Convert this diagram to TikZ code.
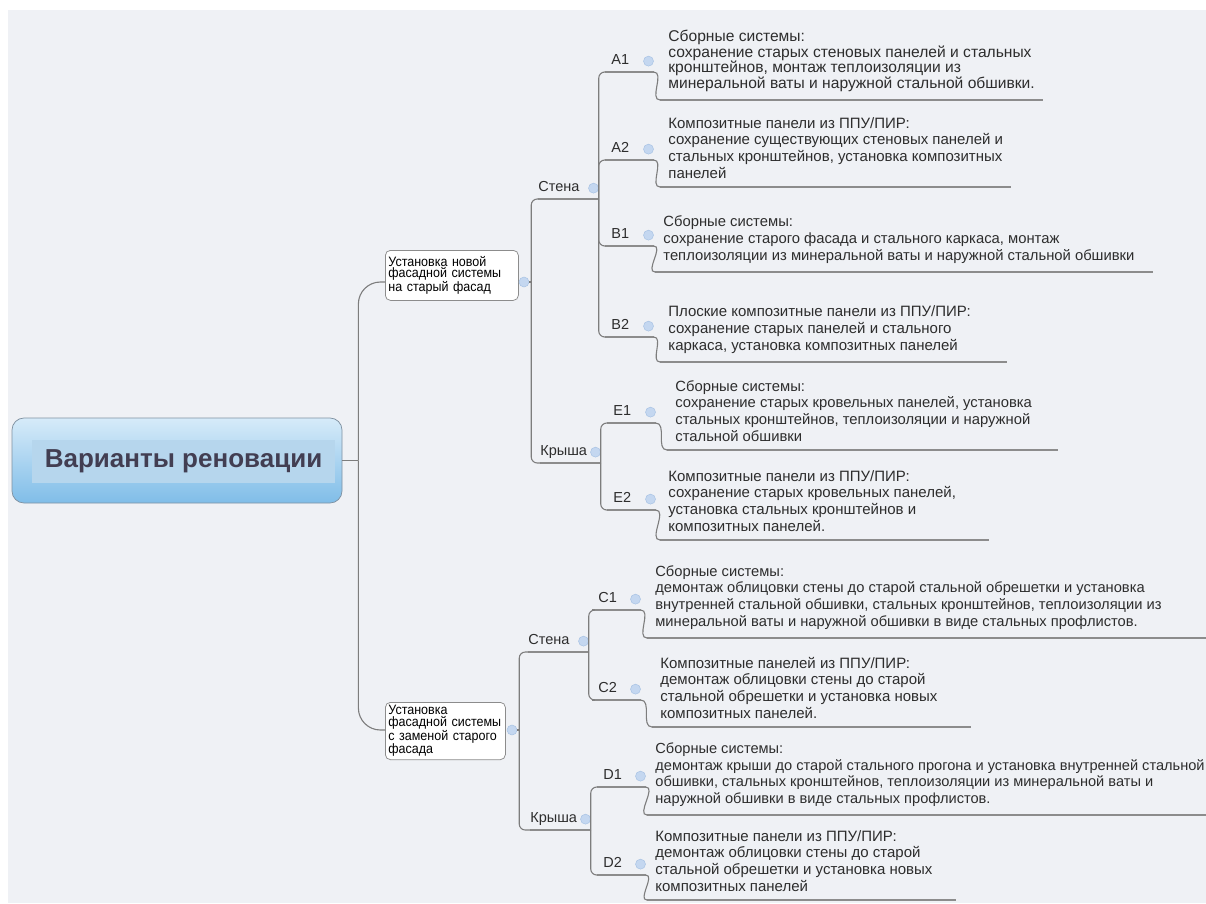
\documentclass[tikz,border=0pt]{standalone}
\usepackage{fontspec}
\setmainfont{Liberation Sans}
\newfontfamily\narrowsans{Liberation Sans}[FakeStretch=0.92]

\definecolor{paper}{RGB}{239,241,245}
\definecolor{lnGray}{RGB}{140,140,140}
\definecolor{brGray}{RGB}{125,125,125}
\definecolor{txt}{RGB}{45,45,45}
\definecolor{rootTop}{RGB}{214,235,249}
\definecolor{rootBot}{RGB}{128,189,232}
\definecolor{rootIn}{RGB}{182,214,237}
\definecolor{rootEdge}{RGB}{128,146,162}
\definecolor{rootTxt}{RGB}{66,62,82}
\definecolor{btnFill}{RGB}{196,215,240}
\definecolor{btnDraw}{RGB}{168,195,228}

\tikzset{every picture/.style={line width=0.75pt}}
\tikzset{
  under/.style={draw=lnGray, line width=1.8pt},
  branch/.style={draw=brGray, line width=1.1pt, rounded corners=6pt},
  btn/.style={circle, fill=btnFill, draw=btnDraw, line width=0.5pt, minimum size=10pt, inner sep=0pt},
  uline/.style={append after command={(\tikzlastnode.south west) edge[under] ([xshift=#1]\tikzlastnode.south east)}},
  uline/.default=0pt,
  sub/.style={anchor=south west, text width=60pt, inner xsep=0pt, inner ysep=4pt, text height=10pt, text depth=3pt,
    font=\fontsize{14.5}{16}\selectfont, text=txt, uline, label={[btn,anchor=east]east:{}}},
  tag/.style={sub, text width=36pt, inner xsep=6pt},
  desc/.style={anchor=south west, align=left, inner xsep=8pt, inner ysep=8pt, font=\fontsize{15}{16.8}\selectfont, text=txt, uline=#1},
  desc/.default=0pt,
  topic/.style={anchor=north west, draw=lnGray, fill=white, rounded corners=5pt, align=left, inner sep=3pt,
    font=\narrowsans\fontsize{13.6}{11.5}\selectfont, text=black},
  rootbox/.style={draw=rootEdge, rounded corners=12pt, top color=rootTop, bottom color=rootBot, minimum width=330pt, minimum height=85pt},
  rootlbl/.style={fill=rootIn, minimum width=303pt, minimum height=43pt, font=\bfseries\fontsize{26}{30}\selectfont, text=rootTxt},
}

\begin{document}
\begin{tikzpicture}[x=1pt,y=1pt,yscale=-1,xscale=1]
    \useasboundingbox (0,0) rectangle (1206,903);
    %Shape: Rectangle (backdrop)
    \fill[paper] (8,10) rectangle (1206,903);

    % Central topic
    \node[rootbox] (root) at (177,460.5) {};
    \node[rootlbl] (rootname) at (183.5,461.5) {Варианты реновации};

    % Main topics
    \node[topic, text width=127pt, minimum height=50pt] (n1) at (385,250) {Установка новой\\фасадной системы\\на старый фасад};
    \node[btn] (n1b) at (524,282) {};
    \node[topic, text width=114pt, minimum height=54pt] (n2) at (385,702) {Установка\\фасадной системы\\с заменой старого\\фасада};
    \node[btn] (n2b) at (512,730) {};

    % Subtopics
    \node[sub] (st1) at (538,199) {Стена};
    \node[sub] (kr1) at (540,463) {Крыша};
    \node[sub] (st2) at (528,652) {Стена};
    \node[sub] (kr2) at (530,830) {Крыша};

    % Variant tags
    \node[tag] (a1) at (605,72) {A1};
    \node[tag] (a2) at (605,160) {A2};
    \node[tag] (b1) at (605,246) {B1};
    \node[tag] (b2) at (605,337) {B2};
    \node[tag] (e1) at (607,423) {E1};
    \node[tag] (e2) at (607,510) {E2};
    \node[tag] (c1) at (592,610) {C1};
    \node[tag] (c2) at (592,700) {C2};
    \node[tag] (d1) at (597,787) {D1};
    \node[tag] (d2) at (597,875) {D2};

    % Text Node
    \node[desc, font=\fontsize{15.6}{15.6}\selectfont] (a1d) at (660,100) {Сборные системы:\\сохранение старых стеновых панелей и стальных\\кронштейнов, монтаж теплоизоляции из\\минеральной ваты и наружной стальной обшивки.};
    % Text Node
    \node[desc] (a2d) at (660,187) {Композитные панели из ППУ/ПИР:\\сохранение существующих стеновых панелей и\\стальных кронштейнов, установка композитных\\панелей};
    % Text Node
    \node[desc=10pt, font=\fontsize{14.8}{16.8}\selectfont] (b1d) at (655,272) {Сборные системы:\\сохранение старого фасада и стального каркаса, монтаж\\теплоизоляции из минеральной ваты и наружной стальной обшивки};
    % Text Node
    \node[desc=28pt] (b2d) at (660,362) {Плоские композитные панели из ППУ/ПИР:\\сохранение старых панелей и стального\\каркаса, установка композитных панелей};
    % Text Node
    \node[desc=18pt, font=\fontsize{14.8}{16.8}\selectfont] (e1d) at (667,450) {Сборные системы:\\сохранение старых кровельных панелей, установка\\стальных кронштейнов, теплоизоляции и наружной\\стальной обшивки};
    % Text Node
    \node[desc=25pt] (e2d) at (660,540) {Композитные панели из ППУ/ПИР:\\сохранение старых кровельных панелей,\\установка стальных кронштейнов и\\композитных панелей.};
    % Text Node
    \node[desc=60pt, font=\fontsize{14.7}{16.8}\selectfont] (c1d) at (647,638) {Сборные системы:\\демонтаж облицовки стены до старой стальной обрешетки и установка\\внутренней стальной обшивки, стальных кронштейнов, теплоизоляции из\\минеральной ваты и наружной обшивки в виде стальных профлистов.};
    % Text Node
    \node[desc=25pt] (c2d) at (652,727) {Композитные панелей из ППУ/ПИР:\\демонтаж облицовки стены до старой\\стальной обрешетки и установка новых\\композитных панелей.};
    % Text Node
    \node[desc=60pt, font=\fontsize{14.6}{16.8}\selectfont] (d1d) at (647,815) {Сборные системы:\\демонтаж крыши до старой стального прогона и установка внутренней стальной\\обшивки, стальных кронштейнов, теплоизоляции из минеральной ваты и\\наружной обшивки в виде стальных профлистов.};
    % Text Node
    \node[desc=15pt] (d2d) at (647,900) {Композитные панели из ППУ/ПИР:\\демонтаж облицовки стены до старой\\стальной обрешетки и установка новых\\композитных панелей};

    %Straight Lines (central topic out)
    \draw[brGray, line width=1.1pt] (root.east) -- ++(16,0) coordinate (rj);
    \draw[branch, rounded corners=22pt] (rj) |- (n1b -| n1.west);
    \draw[branch, rounded corners=22pt] (rj) |- (n2b -| n2.west);

    %Curve Lines (main topics to walls and roofs)
    \draw[brGray, line width=1.1pt] (n1b.east) -- ++(2,0) coordinate (j1);
    \draw[branch] (j1) |- (st1.south west);
    \draw[branch] (j1) |- (kr1.south west);
    \draw[brGray, line width=1.1pt] (n2b.east) -- ++(2,0) coordinate (j2);
    \draw[branch] (j2) |- (st2.south west);
    \draw[branch] (j2) |- (kr2.south west);

    %Curve Lines (subtopics to tags)
    \draw[branch] (st1.south east) |- (a1.south west);
    \draw[branch] (st1.south east) |- (a2.south west);
    \draw[branch] (st1.south east) |- (b1.south west);
    \draw[branch] (st1.south east) |- (b2.south west);
    \draw[branch] (kr1.south east) |- (e1.south west);
    \draw[branch] (kr1.south east) |- (e2.south west);
    \draw[branch] (st2.south east) |- (c1.south west);
    \draw[branch] (st2.south east) |- (c2.south west);
    \draw[branch] (kr2.south east) |- (d1.south west);
    \draw[branch] (kr2.south east) |- (d2.south west);

    %Curve Lines (tags to descriptions)
    \draw[branch] (a1.south east) to[out=0,in=180] (a1d.south west);
    \draw[branch] (a2.south east) to[out=0,in=180] (a2d.south west);
    \draw[branch] (b1.south east) to[out=0,in=180] (b1d.south west);
    \draw[branch] (b2.south east) to[out=0,in=180] (b2d.south west);
    \draw[branch] (e1.south east) to[out=0,in=180] (e1d.south west);
    \draw[branch] (e2.south east) to[out=0,in=180] (e2d.south west);
    \draw[branch] (c1.south east) to[out=0,in=180] (c1d.south west);
    \draw[branch] (c2.south east) to[out=0,in=180] (c2d.south west);
    \draw[branch] (d1.south east) to[out=0,in=180] (d1d.south west);
    \draw[branch] (d2.south east) to[out=0,in=180] (d2d.south west);

\end{tikzpicture}
\end{document}
